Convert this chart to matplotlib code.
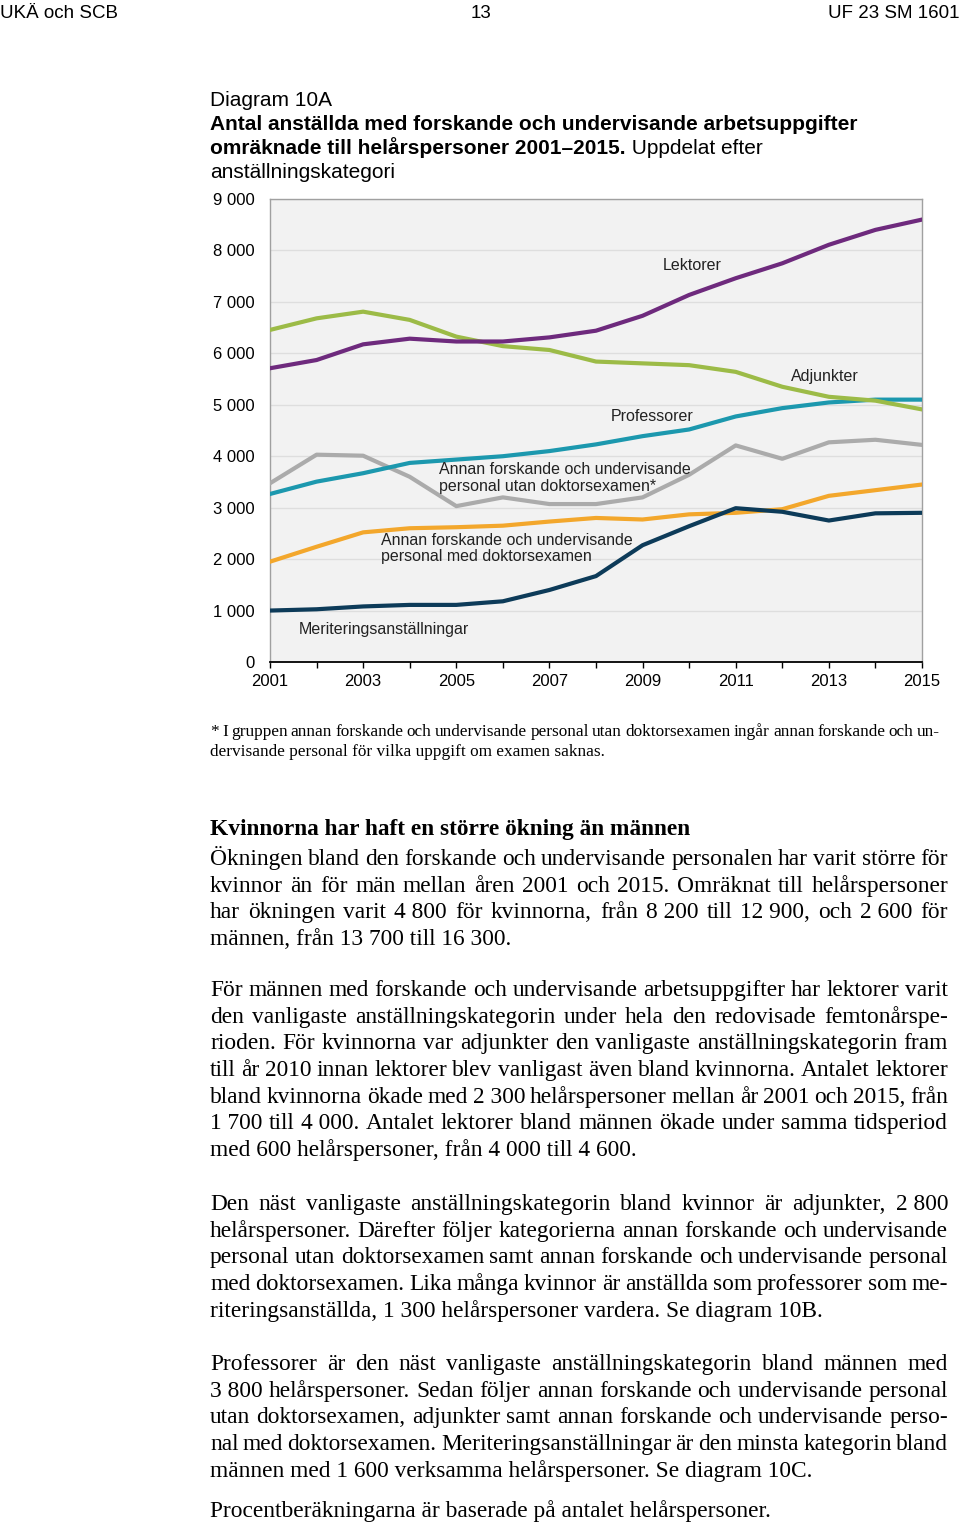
import matplotlib
matplotlib.use('Agg')
import matplotlib.pyplot as plt
from matplotlib.ticker import FuncFormatter

# ---------------- data ----------------
years = list(range(2001, 2016))
lektorer = [5710, 5870, 6175, 6285, 6230, 6230, 6310, 6440, 6730, 7135, 7460, 7750, 8110, 8400, 8600]
adjunkter = [6455, 6680, 6810, 6650, 6325, 6140, 6065, 5840, 5805, 5770, 5640, 5350, 5155, 5080, 4910]
professorer = [3266, 3506, 3670, 3870, 3935, 4000, 4100, 4230, 4390, 4520, 4773, 4935, 5045, 5100, 5100]
utan_dr = [3474, 4030, 4010, 3600, 3030, 3200, 3070, 3070, 3200, 3640, 4210, 3950, 4270, 4320, 4220]
med_dr = [1950, 2240, 2520, 2600, 2620, 2650, 2730, 2800, 2770, 2870, 2900, 2970, 3230, 3340, 3450]
meritering = [1000, 1025, 1080, 1110, 1110, 1180, 1400, 1670, 2270, 2640, 2990, 2920, 2750, 2890, 2900]

yticks = list(range(0, 10000, 1000))
xlabel_years = list(range(2001, 2016, 2))

series_labels = {
    'lektorer': 'Lektorer',
    'adjunkter': 'Adjunkter',
    'professorer': 'Professorer',
    'utan': 'Annan forskande och undervisande\npersonal utan doktorsexamen*',
    'med': 'Annan forskande och undervisande\npersonal med doktorsexamen',
    'merit': 'Meriteringsanställningar',
}

header_left = 'UKÄ och SCB'
header_mid = '13'
header_right = 'UF 23 SM 1601'
title_l1 = 'Diagram 10A'
title_l2 = 'Antal anställda med forskande och undervisande arbetsuppgifter'
title_l3b = 'omräknade till helårspersoner 2001–2015.'
title_l3r = ' Uppdelat efter'
title_l4 = 'anställningskategori'

footnote = ['* I gruppen annan forskande och undervisande personal utan doktorsexamen ingår annan forskande och un-',
            'dervisande personal för vilka uppgift om examen saknas.']

heading = 'Kvinnorna har haft en större ökning än männen'
NB = '\u00a0'
paragraphs = [
    ['Ökningen bland den forskande och undervisande personalen har varit större för',
     'kvinnor än för män mellan åren 2001 och 2015. Omräknat till helårspersoner',
     f'har ökningen varit 4{NB}800 för kvinnorna, från 8{NB}200 till 12{NB}900, och 2{NB}600 för',
     f'männen, från 13{NB}700 till 16{NB}300.'],
    ['För männen med forskande och undervisande arbetsuppgifter har lektorer varit',
     'den vanligaste anställningskategorin under hela den redovisade femtonårspe-',
     'rioden. För kvinnorna var adjunkter den vanligaste anställningskategorin fram',
     'till år 2010 innan lektorer blev vanligast även bland kvinnorna. Antalet lektorer',
     f'bland kvinnorna ökade med 2{NB}300 helårspersoner mellan år 2001 och 2015, från',
     f'1{NB}700 till 4{NB}000. Antalet lektorer bland männen ökade under samma tidsperiod',
     f'med 600 helårspersoner, från 4{NB}000 till 4{NB}600.'],
    [f'Den näst vanligaste anställningskategorin bland kvinnor är adjunkter, 2{NB}800',
     'helårspersoner. Därefter följer kategorierna annan forskande och undervisande',
     'personal utan doktorsexamen samt annan forskande och undervisande personal',
     'med doktorsexamen. Lika många kvinnor är anställda som professorer som me-',
     f'riteringsanställda, 1{NB}300 helårspersoner vardera. Se diagram 10B.'],
    ['Professorer är den näst vanligaste anställningskategorin bland männen med',
     f'3{NB}800 helårspersoner. Sedan följer annan forskande och undervisande personal',
     'utan doktorsexamen, adjunkter samt annan forskande och undervisande perso-',
     'nal med doktorsexamen. Meriteringsanställningar är den minsta kategorin bland',
     f'männen med 1{NB}600 verksamma helårspersoner. Se diagram 10C.'],
    ['Procentberäkningarna är baserade på antalet helårspersoner.'],
]
para_y = [865, 996, 1210, 1370, 1517]

# ---------------- figure ----------------
W, H = 960, 1525
fig = plt.figure(figsize=(W / 100, H / 100), dpi=100)
fig.patch.set_facecolor('white')
renderer = fig.canvas.get_renderer()

def fx(px):
    return px / W

def fy(py):
    return 1 - py / H

SANS = 'Liberation Sans'
SERIF = 'Liberation Serif'

def width_px(s, **kw):
    t = fig.text(0, 0, s, **kw)
    w = t.get_window_extent(renderer).width
    t.remove()
    return w

def fit_size(s, target, base=12, **kw):
    return base * target / width_px(s, fontsize=base, **kw)

def fit_justified(lines, target, min_gap=0.8, base=12, **kw):
    """largest size such that every line fits with spaces >= min_gap * normal space"""
    sp = width_px('a a', fontsize=base, **kw) - width_px('aa', fontsize=base, **kw)
    best = 1e9
    for l in lines:
        words = l.split(' ')
        ww = sum(width_px(w, fontsize=base, **kw) for w in words)
        need = ww + min_gap * sp * (len(words) - 1)
        best = min(best, base * target / need)
    return best

# ---------------- header ----------------
hs = 13.5
fig.text(fx(0), fy(18), header_left, fontsize=hs, family=SANS, ha='left', va='baseline')
fig.text(fx(481), fy(18), header_mid, fontsize=hs, family=SANS, ha='center', va='baseline')
fig.text(fx(960), fy(18), header_right, fontsize=hs, family=SANS, ha='right', va='baseline')

# ---------------- title ----------------
ts = min(fit_size(title_l2, 655, family=SANS, weight='bold'), 15)
fig.text(fx(210), fy(106), title_l1, fontsize=ts, family=SANS, va='baseline')
fig.text(fx(210), fy(130), title_l2, fontsize=ts, family=SANS, weight='bold', va='baseline')
fig.text(fx(210), fy(154), title_l3b, fontsize=ts, family=SANS, weight='bold', va='baseline')
wb = width_px(title_l3b, fontsize=ts, family=SANS, weight='bold')
fig.text(fx(210 + wb), fy(154), title_l3r, fontsize=ts, family=SANS, va='baseline')
fig.text(fx(210), fy(178), title_l4, fontsize=ts, family=SANS, va='baseline')

# ---------------- chart ----------------
ax = fig.add_axes([fx(270), fy(662), fx(922) - fx(270), fy(199) - fy(662)])
ax.set_facecolor('#F2F2F2')
lw = 3.0
ax.plot(years, utan_dr, color='#ABABAB', lw=lw, solid_joinstyle='round', zorder=3)
ax.plot(years, med_dr, color='#F3A72C', lw=lw, solid_joinstyle='round', zorder=3)
ax.plot(years, meritering, color='#0D3B59', lw=lw, solid_joinstyle='round', zorder=3)
ax.plot(years, professorer, color='#1C98AE', lw=lw, solid_joinstyle='round', zorder=3)
ax.plot(years, adjunkter, color='#9CBB47', lw=lw, solid_joinstyle='round', zorder=3)
ax.plot(years, lektorer, color='#6E2A7D', lw=lw, solid_joinstyle='round', zorder=3)

ax.set_xlim(2001, 2015)
ax.set_ylim(0, 9000)
ax.set_yticks(yticks)
ax.yaxis.set_major_formatter(FuncFormatter(lambda v, p: f'{int(v):,}'.replace(',', ' ')))
ax.set_xticks(years)
ax.set_xticklabels([str(y) if y in xlabel_years else '' for y in years])
ax.grid(axis='y', color='#DEDEDE', lw=1.0, zorder=1)
ax.set_axisbelow(True)
ax.tick_params(axis='y', length=0, pad=11, labelsize=12)
ax.tick_params(axis='x', length=4, width=1.0, direction='out', pad=5, labelsize=12, color='black')
for lab in ax.get_xticklabels() + ax.get_yticklabels():
    lab.set_family(SANS)
for s in ['left', 'top', 'right']:
    ax.spines[s].set_color('#A0A0A0')
    ax.spines[s].set_linewidth(1.0)
ax.spines['bottom'].set_color('black')
ax.spines['bottom'].set_linewidth(1.3)

ls = 11.5
lk = dict(fontsize=ls, family=SANS, color='#222222', zorder=5)
ax.text(2010.06, 7700, series_labels['lektorer'], ha='center', va='center', **lk)
ax.text(2012.92, 5540, series_labels['adjunkter'], ha='center', va='center', **lk)
ax.text(2009.2, 4780, series_labels['professorer'], ha='center', va='center', **lk)
ax.text(2004.63, 3577, series_labels['utan'], ha='left', va='center', linespacing=1.1, **lk)
ax.text(2003.38, 2206, series_labels['med'], ha='left', va='center', linespacing=1.1, **lk)
ax.text(2001.62, 640, series_labels['merit'], ha='left', va='center', **lk)

# ---------------- justified text helper ----------------
def para(lines, x0, x1, y0, lh, size, **kw):
    for i, line in enumerate(lines):
        y = y0 + i * lh
        last = i == len(lines) - 1
        if last:
            fig.text(fx(x0), fy(y), line, fontsize=size, va='baseline', ha='left', **kw)
            continue
        words = line.split(' ')
        ws = [width_px(w, fontsize=size, **kw) for w in words]
        gap = (x1 - x0 - sum(ws)) / (len(words) - 1)
        x = x0
        for w, wd in zip(words, ws):
            fig.text(fx(x), fy(y), w, fontsize=size, va='baseline', ha='left', **kw)
            x += wd + gap

# footnote
fs = fit_justified(footnote[:1], 730, family=SERIF)
para(footnote, 210, 940, 736, 20, fs, family=SERIF)

# heading
hsz = fit_size(heading, 480, family=SERIF, weight='bold')
fig.text(fx(210), fy(835), heading, fontsize=hsz, family=SERIF, weight='bold', va='baseline')

# body
body_lines = [l for p in paragraphs for l in p[:-1]]
bs = fit_justified(body_lines, 738, family=SERIF)
for p, y0 in zip(paragraphs, para_y):
    para(p, 210, 948, y0, 26.67, bs, family=SERIF)

fig.savefig('out.png', dpi=100)
